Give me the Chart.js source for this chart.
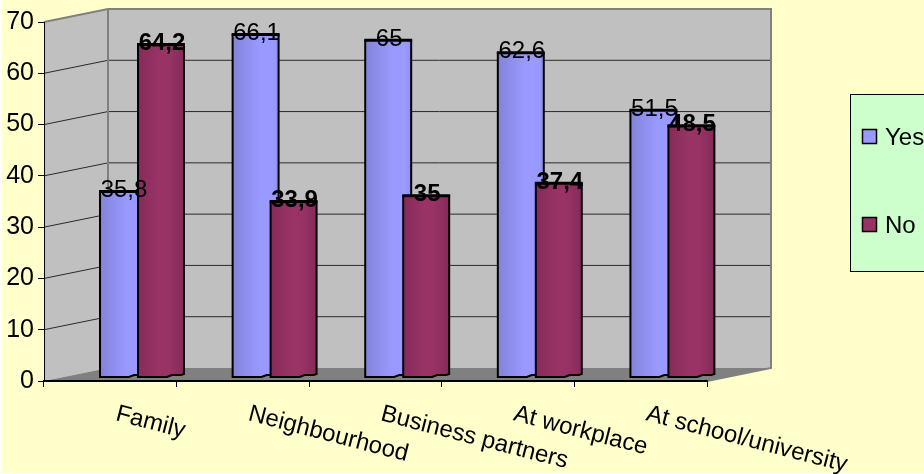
<!DOCTYPE html>
<html>
<head>
<meta charset="utf-8">
<style>
  html, body { margin: 0; padding: 0; background: #fff; }
  canvas { display: block; }
</style>
<script src="https://cdn.jsdelivr.net/npm/chart.js@4/dist/chart.umd.js"></script>
</head>
<body>
<canvas id="chart" width="924" height="474"></canvas>
<script>
var categories = ["Family", "Neighbourhood", "Business partners", "At workplace", "At school/university"];
var yesValues = [35.8, 66.1, 65, 62.6, 51.5];
var noValues = [64.2, 33.9, 35, 37.4, 48.5];
var seriesNames = ["Yes", "No"];

var FONT = '"Liberation Sans", Arial, sans-serif';
var TEXT_SIZE = 24;
// depth of the fake 3D box and how far the bars sit inside it
var DEPTH_X = 64, DEPTH_Y = -13;
var BAR_DX = 31.7, BAR_DY = -4;
var BAR_W = 46;

function barFill(stops) {
  return function (context) {
    var chart = context.chart;
    var x = context.type === "data" ? chart.scales.x.getPixelForValue(context.dataIndex) : NaN;
    // scales have no size yet on the very first resolve
    if (!isFinite(x)) return stops[0][1];
    var left = context.datasetIndex === 0 ? x - 42 : x - 4;
    var g = chart.ctx.createLinearGradient(left, 0, left + BAR_W, 0);
    stops.forEach(function (s) { g.addColorStop(s[0], s[1]); });
    return g;
  };
}

function line(ctx, x1, y1, x2, y2) {
  ctx.beginPath();
  ctx.moveTo(x1, y1);
  ctx.lineTo(x2, y2);
  ctx.stroke();
}

function polygon(ctx, points, fill) {
  ctx.beginPath();
  points.forEach(function (p, i) { i ? ctx.lineTo(p[0], p[1]) : ctx.moveTo(p[0], p[1]); });
  ctx.closePath();
  ctx.fillStyle = fill;
  ctx.fill();
}

var box3d = {
  id: "box3d",
  beforeDraw: function (chart) {
    var ctx = chart.ctx, a = chart.chartArea, y = chart.scales.y;
    ctx.save();
    ctx.fillStyle = "#ffffcc";
    ctx.fillRect(2, 0, 922, 473);

    var bx = a.left + DEPTH_X, tx = a.right + DEPTH_X;
    var backTop = a.top + DEPTH_Y, backBottom = a.bottom + DEPTH_Y;
    polygon(ctx, [[bx, backTop], [tx + 1, backTop], [tx + 1, backBottom], [bx, backBottom]], "#c0c0c0");
    polygon(ctx, [[a.left, a.top], [bx, backTop], [bx, backBottom], [a.left, a.bottom]], "#c0c0c0");
    polygon(ctx, [[a.left, a.bottom], [bx, backBottom], [tx, backBottom], [a.right, a.bottom]], "#808080");

    ctx.lineWidth = 1;
    ctx.strokeStyle = "#2a2a2a";
    y.ticks.forEach(function (t) {
      if (t.value === 0 || t.value === y.max) return;
      var py = y.getPixelForValue(t.value);
      line(ctx, a.left, py, bx, py + DEPTH_Y);
      line(ctx, bx, py + DEPTH_Y, tx, py + DEPTH_Y);
    });

    ctx.strokeStyle = "#808080";
    ctx.lineWidth = 2;
    ctx.beginPath();
    ctx.moveTo(a.left, a.top);
    ctx.lineTo(bx, backTop);
    ctx.lineTo(tx, backTop);
    ctx.lineTo(tx, backBottom);
    ctx.lineTo(a.right, a.bottom);
    ctx.moveTo(bx, backTop);
    ctx.lineTo(bx, backBottom);
    ctx.stroke();
    ctx.restore();
  },
  beforeDatasetsDraw: function (chart) {
    chart.ctx.save();
    chart.ctx.translate(BAR_DX, BAR_DY);
  },
  afterDatasetsDraw: function (chart) {
    var ctx = chart.ctx;
    // library paints first series on top, here the second one must overlap it
    [0, 1].forEach(function (i) {
      var meta = chart.getDatasetMeta(i);
      if (i === 1) meta.controller.draw();
      meta.data.forEach(function (el) {
        var l = el.x - el.width / 2, r = el.x + el.width / 2, top = el.y, base = el.base;
        polygon(ctx, [[r - 15, base], [r + 2, base + 2], [r + 2, base - 3], [r, base - 3], [r - 12, base - 2]], "#808080");
        ctx.strokeStyle = "#000";
        ctx.lineWidth = 2;
        ctx.beginPath();
        ctx.moveTo(l, top);
        ctx.lineTo(l, base);
        ctx.lineTo(r - 17, base);
        ctx.lineTo(r - 12, base - 2);
        ctx.lineTo(r - 3, base - 2);
        ctx.lineTo(r, base - 3);
        ctx.lineTo(r, top);
        ctx.stroke();
        ctx.lineWidth = 3;
        line(ctx, l - 1, top, r + 1, top);
      });
    });
    // value labels
    ctx.fillStyle = "#000";
    ctx.textAlign = "center";
    ctx.textBaseline = "middle";
    [0, 1].forEach(function (i) {
      ctx.font = (i === 1 ? "bold " : "") + TEXT_SIZE + "px " + FONT;
      chart.getDatasetMeta(i).data.forEach(function (el, k) {
        var text = String(chart.data.datasets[i].data[k]).replace(".", ",");
        ctx.fillText(text, el.x + 1, el.y - 1);
      });
    });
    ctx.restore();
  },
  afterDraw: function (chart) {
    var ctx = chart.ctx, x = chart.scales.x;
    ctx.save();
    ctx.fillStyle = "#000";
    ctx.font = TEXT_SIZE + "px " + FONT;
    ctx.textAlign = "left";
    ctx.textBaseline = "top";
    // category labels, slanted and starting at the category centre
    chart.data.labels.forEach(function (label, i) {
      ctx.save();
      ctx.translate(x.getPixelForValue(i) + 9, 402);
      ctx.rotate(14.5 * Math.PI / 180);
      ctx.fillText(label, 0, 0);
      ctx.restore();
    });

    // legend
    ctx.fillStyle = "#ccffcc";
    ctx.fillRect(850.5, 94.5, 80, 177);
    ctx.strokeStyle = "#000";
    ctx.lineWidth = 1;
    ctx.strokeRect(850.5, 94.5, 80, 177);
    ctx.textBaseline = "middle";
    [137, 225].forEach(function (cy, i) {
      ctx.fillStyle = i === 0 ? "#9999ff" : "#993366";
      ctx.fillRect(862.5, cy - 7.5, 14, 14);
      ctx.lineWidth = 1.5;
      ctx.strokeRect(862.5, cy - 7.5, 14, 14);
      ctx.fillStyle = "#000";
      ctx.fillText(chart.data.datasets[i].label, 885, cy + 1);
    });
    ctx.restore();
  }
};

new Chart(document.getElementById("chart"), {
  type: "bar",
  data: {
    labels: categories,
    datasets: [
      {
        label: seriesNames[0],
        data: yesValues,
        yAxisID: "barY",
        backgroundColor: barFill([[0, "#8383d8"], [0.45, "#9494f8"], [0.6, "#9999ff"], [0.9, "#9999ff"], [1, "#8e8ee8"]]),
        clip: false
      },
      {
        label: seriesNames[1],
        data: noValues,
        yAxisID: "barY",
        backgroundColor: barFill([[0, "#852b5a"], [0.45, "#993366"], [0.65, "#993366"], [1, "#852b5a"]]),
        clip: false
      }
    ]
  },
  options: {
    responsive: false,
    animation: false,
    devicePixelRatio: 1,
    categoryPercentage: 0.573,
    barPercentage: 1.21,
    layout: { padding: { top: 22, right: 217, bottom: 0, left: 0 } },
    plugins: { legend: { display: false }, tooltip: { enabled: false } },
    scales: {
      x: {
        afterFit: function (scale) { scale.height = 93; },
        ticks: { display: false },
        grid: { drawOnChartArea: false, offset: true, tickLength: 6, color: "#000" },
        border: { color: "#000", width: 2 }
      },
      y: {
        min: 0,
        max: 70,
        afterFit: function (scale) { scale.width = 44; },
        ticks: {
          stepSize: 10,
          padding: 4,
          color: "#000",
          font: { family: FONT, size: 25 }
        },
        grid: { drawOnChartArea: false, tickLength: 6, color: "#000" },
        border: { color: "#000", width: 1 }
      },
      // bars stand further back in the box, so they read a little taller than the front axis
      barY: { display: false, min: 0, max: 69.3 }
    }
  },
  plugins: [box3d]
});
</script>
</body>
</html>
